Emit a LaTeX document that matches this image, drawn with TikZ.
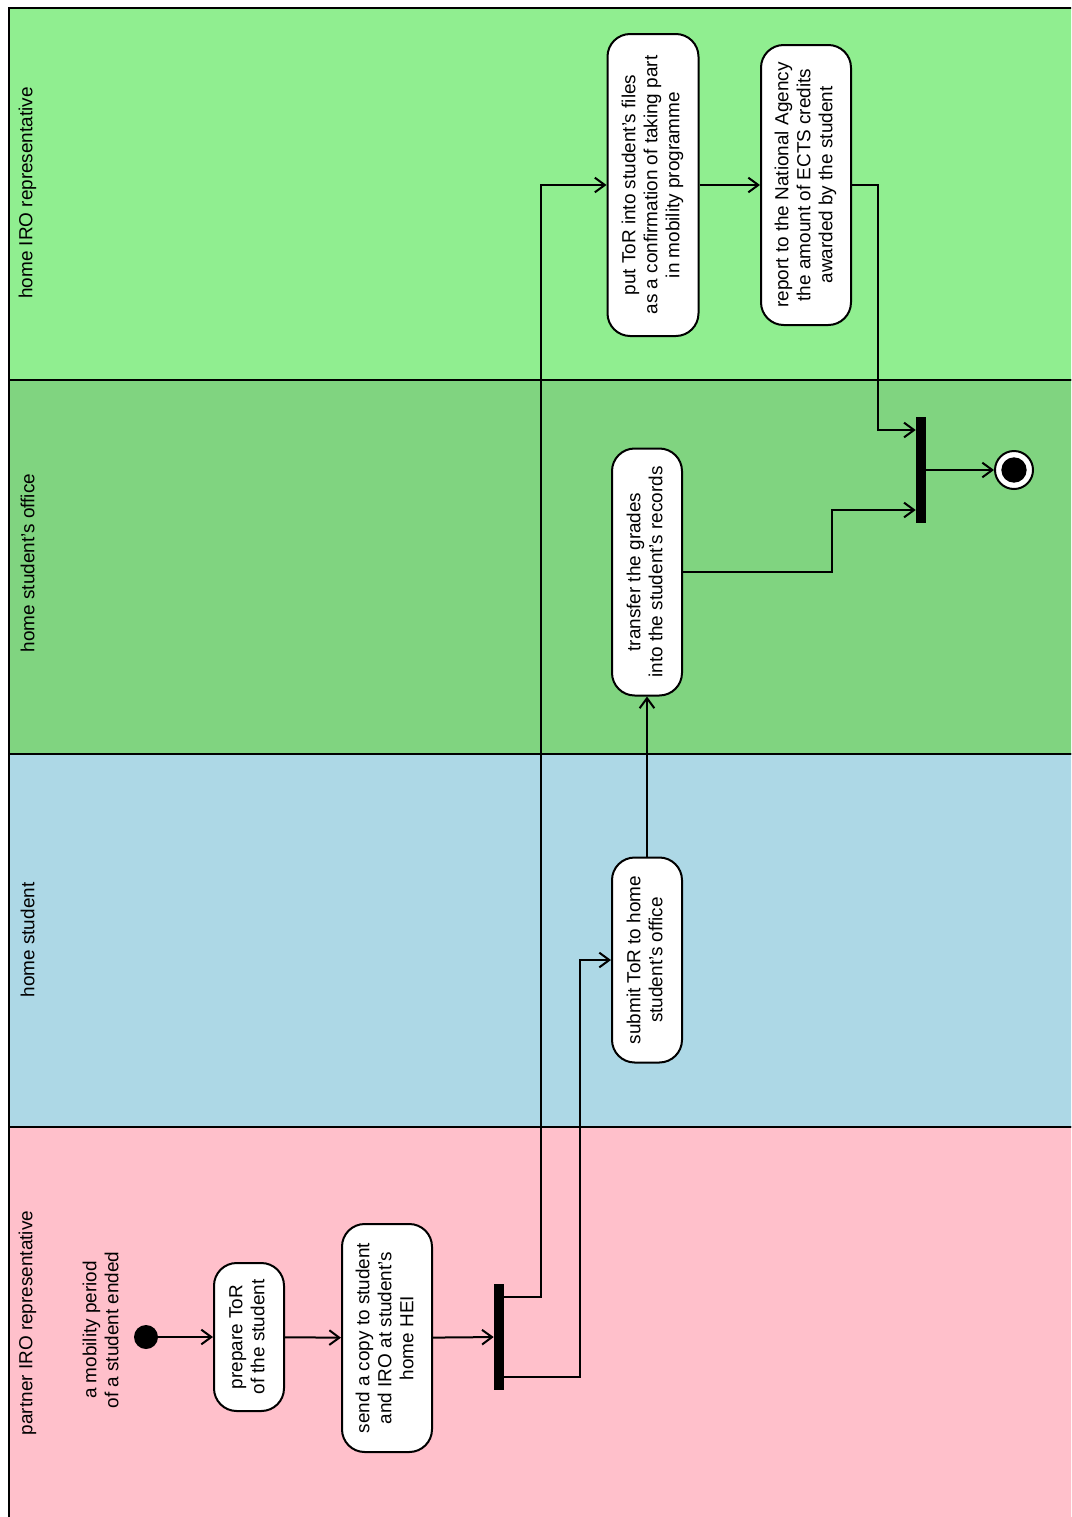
\documentclass[tikz,border=0pt]{standalone}
\usepackage{fontspec}
\setmainfont{Liberation Sans}
\usepackage{graphicx}
\usetikzlibrary{arrows.meta}
\definecolor{homeiro}{HTML}{90EE90}
\definecolor{office}{HTML}{80D480}
\definecolor{student}{HTML}{ADD8E6}
\definecolor{partner}{HTML}{FFC0CB}
\newcommand{\vtext}[1]{\rotatebox{90}{\begin{tabular}{@{}c@{}}#1\end{tabular}}}

\begin{document}
\begin{tikzpicture}[x=0.75pt, y=-0.75pt, >={Straight Barb[length=7.5pt,width=11pt]}]
\fontsize{14.2}{16.5}\selectfont
\tikzset{
    lane/.style={draw=black, line width=1.5pt},
    lanelabel/.style={anchor=center, inner sep=0pt},
    act/.style={draw, fill=white, rounded corners=17pt, line width=1.5pt, inner sep=0pt},
    bar/.style={fill=black, inner sep=0pt, minimum width=7.5pt, minimum height=79.5pt},
    flow/.style={->, line width=1.5pt},
}
\clip (0,0) rectangle (1071,1517);

% Draw the swimlanes first.
\filldraw[lane, fill=homeiro] (9,8) rectangle (1080,380);
\filldraw[lane, fill=office]  (9,380) rectangle (1080,754);
\filldraw[lane, fill=student] (9,754) rectangle (1080,1127);
\filldraw[lane, fill=partner] (9,1127) rectangle (1080,1530);

\node[lanelabel] (lhomeiro)  at (28,193)  {\vtext{home IRO representative}};
\node[lanelabel] (loffice)   at (30,563)  {\vtext{home student's office}};
\node[lanelabel] (lstudent)  at (30,940)  {\vtext{home student}};
\node[lanelabel] (lpartner)  at (28,1323) {\vtext{partner IRO representative}};

% Partner IRO representative
\node[circle, fill=black, minimum size=18pt, inner sep=0pt] (init) at (146,1337) {};
\node[lanelabel] (initlbl) at (103,1330) {\vtext{a mobility period\\of a student ended}};
\node[act, minimum width=52.5pt, minimum height=111pt] (prep) at (249,1337)
    {\vtext{prepare ToR\\of the student}};
\node[act, minimum width=67.5pt, minimum height=171pt] (send) at (387,1338)
    {\vtext{send a copy to student\\and IRO at student's\\home HEI}};
\node[bar] (fork) at (499,1337) {};

% Home student and the office
\node[act, minimum width=52.5pt, minimum height=153.75pt] (submit) at (647,960)
    {\vtext{submit ToR to home\\student's office}};
\node[act, minimum width=52.5pt, minimum height=185.25pt] (transfer) at (647,572)
    {\vtext{transfer the grades\\into the student's records}};

% Home IRO representative
\node[act, minimum width=68.25pt, minimum height=226.5pt] (putfiles) at (653,185)
    {\vtext{put ToR into student's files\\as a confirmation of taking part\\in mobility programme}};
\node[act, minimum width=67.5pt, minimum height=210pt] (report) at (806,185)
    {\vtext{report to the National Agency\\the amount of ECTS credits\\awarded by the student}};

\node[bar] (join) at (921,470) {};
\node[circle, draw=black, fill=white, line width=1.5pt, minimum size=28.5pt, inner sep=0pt] (final) at (1014,470) {};
\fill (final.center) circle (9.5pt);

% Bends of the connectors
\coordinate (bendA) at (541,1297);
\coordinate (bendB) at (580,1377);
\coordinate (bendC) at (832,510);
\coordinate (bendD) at (878,430);

% Draw the connectors.
\draw[flow] (init) -- (prep);
\draw[flow] (prep) -- (send);
\draw[flow] (send) -- (fork);
\draw[flow] (fork.east |- bendA) -- (bendA) |- (putfiles.west);
\draw[flow] (fork.east |- bendB) -- (bendB) |- (submit.west);
\draw[flow] (submit) -- (transfer);
\draw[flow] (putfiles) -- (report);
\draw[flow] (transfer.east) -| (bendC) -- (join.west |- bendC);
\draw[flow] (report.east) -| (bendD) -- (join.west |- bendD);
\draw[flow] (join) -- (final);
\end{tikzpicture}
\end{document}
